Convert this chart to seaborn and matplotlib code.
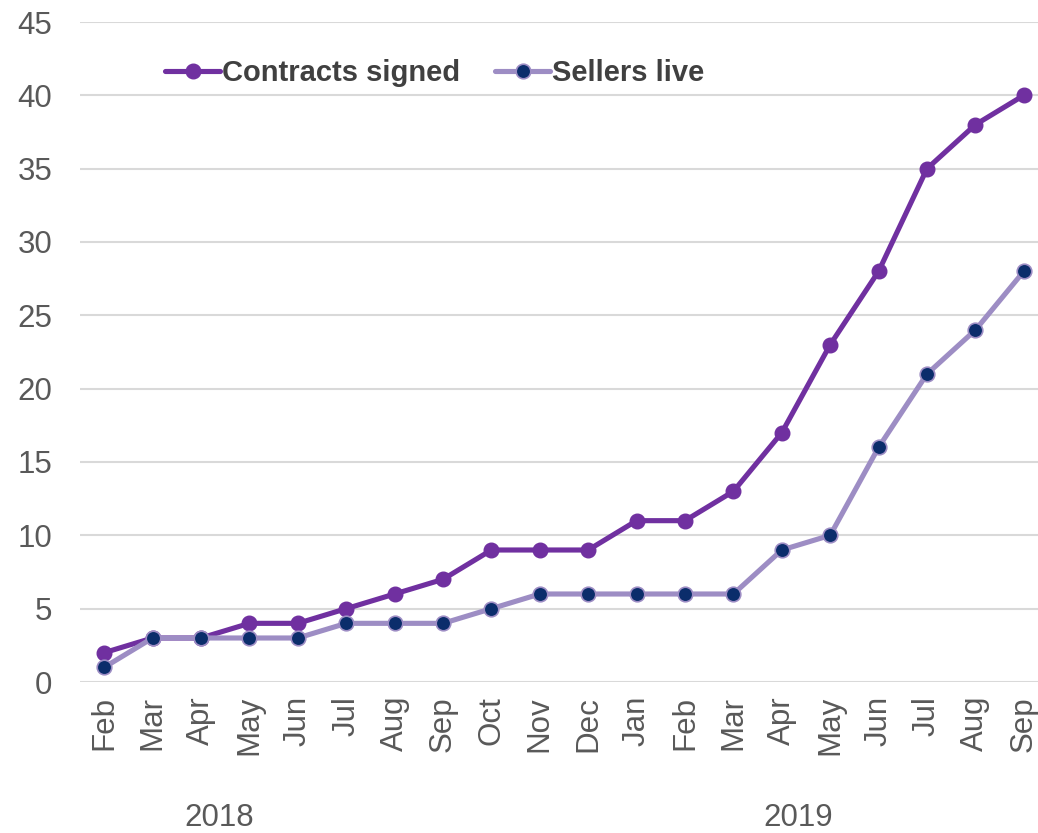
import matplotlib
matplotlib.use("Agg")
import matplotlib.pyplot as plt
import matplotlib.transforms as mtransforms
import seaborn as sns
import pandas as pd

months = ["Feb", "Mar", "Apr", "May", "Jun", "Jul", "Aug", "Sep", "Oct", "Nov",
          "Dec", "Jan", "Feb", "Mar", "Apr", "May", "Jun", "Jul", "Aug", "Sep"]
contracts_signed = [2, 3, 3, 4, 4, 5, 6, 7, 9, 9, 9, 11, 11, 13, 17, 23, 28, 35, 38, 40]
sellers_live = [1, 3, 3, 3, 3, 4, 4, 4, 5, 6, 6, 6, 6, 6, 9, 10, 16, 21, 24, 28]
years = ["2018", "2019"]
year_label_pos = [2.37, 14.33]
yticks = [0, 5, 10, 15, 20, 25, 30, 35, 40, 45]

sns.set_theme(style="white")
plt.rcParams["font.family"] = ["Liberation Sans", "DejaVu Sans"]

fig = plt.figure(figsize=(10.38, 8.33), dpi=100)
ax = fig.add_axes([80 / 1038, 1 - 682 / 833, 968 / 1038, 660 / 833])

x = list(range(len(months)))
df = pd.DataFrame({"x": x, "Contracts signed": contracts_signed, "Sellers live": sellers_live})

sns.lineplot(data=df, x="x", y="Contracts signed", ax=ax, color="#7030A0", lw=3.7,
             marker="o", markersize=10.5, markerfacecolor="#7030A0", markeredgecolor="#7030A0",
             markeredgewidth=1, label="Contracts signed", zorder=3)
sns.lineplot(data=df, x="x", y="Sellers live", ax=ax, color="#9D8DC4", lw=3.7,
             marker="o", markersize=10.5, markerfacecolor="#0B2D6B", markeredgecolor="#9D8DC4",
             markeredgewidth=1.2, label="Sellers live", zorder=4)

ax.set_xlim(-0.5, len(months) - 0.5)
ax.set_ylim(0, 45)
ax.set_yticks(yticks)
ax.set_xticks(x)
ax.set_xticklabels(months, rotation=90)
ax.set_xlabel("")
ax.set_ylabel("")
ax.grid(axis="y", color="#D9D9D9", lw=1.5)
ax.set_axisbelow(True)
for s in ax.spines.values():
    s.set_visible(False)
ax.tick_params(axis="y", length=0, pad=20, labelsize=22.5, labelcolor="#595959")
ax.tick_params(axis="x", length=0, pad=10, labelsize=22.5, labelcolor="#595959")

trans = mtransforms.blended_transform_factory(ax.transData, fig.transFigure)
for yr, pos in zip(years, year_label_pos):
    ax.text(pos, 1 - 818 / 833, yr, transform=trans, ha="center", va="center",
            fontsize=22.5, color="#595959")

leg = ax.legend(loc="center left", bbox_to_anchor=(165 / 1038, 1 - 73 / 833),
                bbox_transform=fig.transFigure, ncol=2, frameon=False,
                prop={"weight": "bold", "size": 21}, handlelength=1.9,
                handletextpad=0.05, columnspacing=1.2, borderpad=0, borderaxespad=0)
for t in leg.get_texts():
    t.set_color("#404040")

fig.savefig("out.png", dpi=100)
